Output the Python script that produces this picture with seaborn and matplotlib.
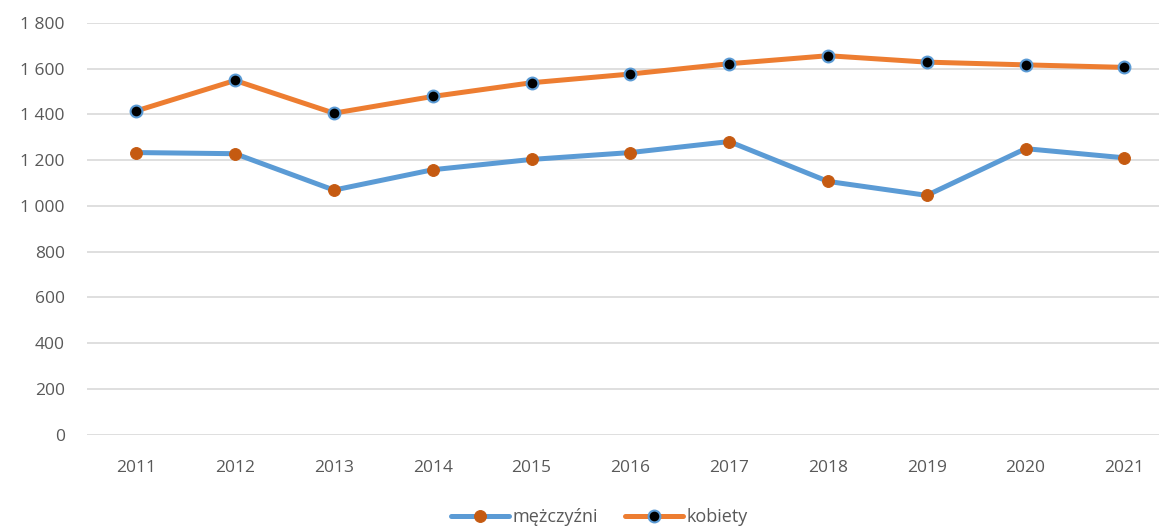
import pandas as pd
import matplotlib.pyplot as plt
import seaborn as sns
from matplotlib.ticker import FuncFormatter

# data
years = ['2011', '2012', '2013', '2014', '2015', '2016', '2017', '2018', '2019', '2020', '2021']
men = [1233, 1228, 1069, 1158, 1203, 1233, 1281, 1107, 1046, 1250, 1210]
women = [1415, 1548, 1405, 1478, 1538, 1576, 1621, 1656, 1628, 1616, 1605]

df = pd.DataFrame({'rok': years, 'mężczyźni': men, 'kobiety': women})

sns.set_style('white')
plt.rcParams['font.family'] = ['Open Sans', 'DejaVu Sans']

fig = plt.figure(figsize=(11.59, 5.29), dpi=100)
ax = fig.add_axes([0.075, 0.178, 0.925, 0.779])

sns.lineplot(data=df, x='rok', y='mężczyźni', ax=ax, color='#5B9BD5', linewidth=3.6,
             marker='o', markersize=8.5, markerfacecolor='#C55A11', markeredgecolor='#C55A11',
             label='mężczyźni', sort=False)
sns.lineplot(data=df, x='rok', y='kobiety', ax=ax, color='#ED7D31', linewidth=3.6,
             marker='o', markersize=8.5, markerfacecolor='black', markeredgecolor='#5B9BD5',
             markeredgewidth=1.5, label='kobiety', sort=False)

ax.set_ylim(0, 1800)
ax.set_yticks(range(0, 1801, 200))
ax.yaxis.set_major_formatter(FuncFormatter(lambda v, p: f'{int(v):,}'.replace(',', ' ')))
ax.set_xlim(-0.5, 10.35)
ax.grid(axis='y', color='#D9D9D9', linewidth=1.2)
ax.set_axisbelow(True)
for s in ax.spines.values():
    s.set_visible(False)
ax.set_xlabel('')
ax.set_ylabel('')
ax.tick_params(axis='both', length=0, labelsize=12.5, labelcolor='#595959')
ax.tick_params(axis='y', pad=16)
ax.tick_params(axis='x', pad=18)

ax.legend(loc='center', bbox_to_anchor=(0.478, -0.2), ncol=2, frameon=False,
          fontsize=13, labelcolor='#595959', handlelength=3.2, handletextpad=0.2,
          columnspacing=1.5)

plt.savefig('out.png', dpi=100)
